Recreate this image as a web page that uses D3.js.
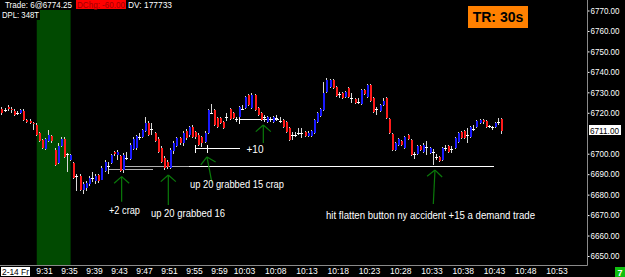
<!DOCTYPE html>
<html><head><meta charset="utf-8">
<script src="https://cdn.jsdelivr.net/npm/d3@7"></script>
<style>html,body{margin:0;padding:0;background:#000;overflow:hidden}svg{display:block}</style>
</head><body><svg id="c" width="625" height="277"></svg>
<script>
// ---------------- DATA ----------------
const startTime = "9:24:30";   // first 30s bar
const barMinutes = 0.5;
const opens = [6722,6721.5,6723,6722,6721,6720,6720,6721,6716.5,6716,6715,6714,6710,6706.5,6702.5,6706,6708.5,6702,6695.5,6704,
6707,6700,6697,6695.5,6689,6689,6682.5,6683,6685,6688,6686.5,6689.5,6687,6691.5,6694,6695.5,6701,6699.5,6699,6692,
6698,6697.5,6702.5,6703,6708,6708,6711,6715,6712,6710,6707,6703,6698,6696,6693,6701.5,6704,6707.5,6705,6711,
6709,6713,6710.5,6709,6708,6705.5,6710,6720,6721.5,6717.5,6717.5,6715.5,6718,6722,6720,6717,6718,6722,6722.5,6728.5,
6722.5,6728.5,6722.5,6720,6718,6715.5,6717,6715.5,6717.5,6716,6716.5,6715.5,6712.5,6709,6709,6710,6710,6710.5,6708.5,6708.5,
6710,6715.5,6718.5,6721.5,6730,6732.5,6736,6732.5,6729,6729.5,6727.5,6732,6727,6726.5,6725.5,6724.5,6731,6727.5,6733.5,6727,
6722,6721,6724,6727,6717,6709.5,6702,6704.5,6706,6703,6709,6706.5,6700,6700,6704,6701,6703.5,6700.5,6701,6698.5,
6698.5,6697,6703,6704,6702.5,6703,6705.5,6710.5,6711,6709,6708,6712,6713,6715,6716.5,6716,6713.5,6713,6713,6715.5,6717];
const highs = [6723,6722.5,6724,6723,6722,6721,6722,6722,6717,6717,6715.5,6715,6710.5,6707,6707.5,6711.5,6709,6703,6705,6708,
6708,6700.5,6700,6696,6690,6690,6686,6686.5,6689,6691,6690,6690,6694,6697,6696,6700,6701.5,6702,6699.5,6700.5,
6701,6705,6708,6709,6710,6712,6718,6716,6715,6710.5,6708,6704,6699,6697,6703,6706,6708,6708,6711,6712,
6713.5,6714,6711,6710,6708.5,6711,6722,6724.5,6722,6718,6718,6716,6720,6722.5,6720.5,6718,6723.5,6724,6728,6729,
6729.5,6729,6723,6720.5,6719,6718.5,6718,6718.5,6719,6718,6717,6716,6713,6710.5,6710.5,6712.5,6712.5,6711,6711,6711.5,
6717,6720.5,6722.5,6735,6737,6736.5,6736.5,6733,6730,6730,6730.5,6732.5,6729.5,6727,6727,6731.5,6731.5,6734,6734,6727.5,
6723,6724.5,6727,6727.5,6717.5,6710,6705.5,6707.5,6706.5,6708.5,6709.5,6707,6701,6704.5,6704.5,6705,6706,6703.5,6702.5,6700,
6699,6703.5,6704.5,6704.5,6704,6708,6710.5,6711,6711.5,6712.5,6713.5,6714,6716.5,6717,6717,6716.5,6714,6713.5,6715.5,6717.5,6717.5];
const lows = [6719,6720.5,6721,6720,6718.5,6719,6719.5,6716,6715,6714.5,6711.5,6708.5,6705.5,6702.5,6702,6705.5,6705,6694,6695,6703.5,
6698,6691,6696.5,6687.5,6682,6682,6680.5,6682,6684,6686,6685,6685.5,6687,6691,6690,6695,6699,6697,6691,6690.5,
6697,6697,6702,6702,6706.5,6707.5,6710.5,6708.5,6709,6705.5,6700.5,6695.5,6692,6692.5,6692.5,6700,6703.5,6704.5,6704,6706.5,
6708,6707.5,6707,6704,6703.5,6705,6709.5,6719.5,6713.5,6712.5,6714.5,6712,6716,6716.5,6717,6715.5,6717.5,6721.5,6722,6723.5,
6722,6721,6718.5,6716,6715.5,6715,6715.5,6715,6716,6715,6712.5,6710,6706,6706.5,6708,6709,6707.5,6708,6708,6708,
6709.5,6715,6718,6721,6729.5,6732,6731.5,6727.5,6727,6726.5,6727,6727,6725,6724.5,6724.5,6724,6728.5,6727,6725.5,6720,
6719,6720.5,6723.5,6717,6709.5,6701.5,6701.5,6704,6704,6702.5,6706.5,6699,6697.5,6699.5,6701.5,6700.5,6699.5,6700,6694.5,6697,
6696,6696.5,6701.5,6700.5,6700.5,6702.5,6705,6707,6707,6705,6707.5,6711,6712.5,6714.5,6714.5,6712.5,6712.5,6711.5,6712.5,6714,6709.5];
const closes = [6720,6721.5,6722,6721.5,6719,6720,6721.5,6716.5,6715.5,6715,6714.5,6709,6706,6703,6707,6709,6706,6694.5,6704,6707,
6698.5,6700,6699.5,6688,6689,6682.5,6685,6685.5,6688,6688,6689,6686.5,6693,6696,6694,6699.5,6700,6701,6691.5,6699.5,
6698,6704.5,6707,6708.5,6708,6711.5,6715,6709,6712,6706,6701,6696,6693,6693.5,6702,6705,6707.5,6705,6710,6707.5,
6713,6708,6708,6704.5,6705,6710,6721.5,6720,6714,6713,6715,6712.5,6718,6717,6717.5,6717,6723,6722,6727.5,6724,
6728.5,6721.5,6719,6716.5,6718,6718,6717,6718,6717.5,6716,6713,6710.5,6706.5,6709,6709,6710,6710,6708.5,6710,6711,
6716.5,6720,6722,6729.5,6736,6736,6732,6728,6729,6727,6730,6727.5,6727,6725,6725.5,6731,6729,6733.5,6726,6720.5,
6722,6724,6726,6717.5,6710,6702,6705,6707,6704.5,6708,6707,6699.5,6700,6704,6702,6704.5,6703.5,6703,6701,6698.5,
6696.5,6703,6703,6701,6702.5,6707.5,6710,6707.5,6707.5,6709,6713,6712,6716,6716.5,6715.5,6713,6713.5,6713,6715,6715.5,6711];

const priceTicks = [6650,6660,6670,6680,6690,6700,6720,6730,6740,6750,6760,6770];
const timeTicks = ["9:31","9:35","9:39","9:43","9:47","9:51","9:55","9:59","10:03","10:08","10:13","10:18","10:23","10:28","10:33","10:38","10:43","10:48","10:53"];
const dateLabel = "2-14 Fr";
const lastPrice = 6711.00;
const openBand = ["9:30:00","9:35:25"];

// horizontal order lines
const levelPrice = [6692.5, 6694.0, 6694.0, 6703.0, 6717.0];
const levelFrom  = ["9:41:20","9:44:05","9:54:25","9:55:20","10:02:20"];
const levelTo    = ["9:48:35","9:54:25","10:43:10","10:02:35","10:08:45"];

// annotation arrows (tip / tail)
const arrowTipTime  = ["9:43:35","9:51:03","9:57:14","10:06:15","10:33:43"];
const arrowTipPrice = [6688.8, 6689.6, 6698.4, 6714.0, 6692.0];
const arrowTailTime = ["9:43:35","9:51:03","9:58:02","10:06:15","10:33:27"];
const arrowTailPrice= [6676.5, 6674.9, 6685.7, 6705.2, 6675.4];

// annotation texts (center time, baseline price)
const noteTexts  = ["+2 crap","up 20 grabbed 16","up 20 grabbed 15 crap","+10","hit flatten button ny accident +15 a demand trade"];
const noteTimes  = ["9:44:02","9:54:12","10:02:02","10:04:55","10:33:00"];
const notePrices = [6670.5, 6669.1, 6683.3, 6700.4, 6667.9];

const headerTrade = "Trade: 6@6774.25";
const headerChg = "DChg: -60.00";
const headerVol = "DV: 177733";
const headerPL = "DPL: 348T";
const badge = "TR: 30s";
const cornerCount = "7";

// ---------------- DRAW ----------------
const toMin = s => { const p = s.split(":").map(Number); return p[0]*60 + p[1] + (p[2]||0)/60; };
const svg = d3.select("#c");
const W = 625, H = 277, axisX = 587.5, axisY = 265.5, plotTop = 10;

const x = d3.scaleLinear().domain([toMin("9:31"), toMin("10:53")]).range([43, 555.5]);
const y = d3.scaleLinear().domain([6650, 6770]).range([256, 10.5]);

svg.append("rect").attr("width", W).attr("height", H).attr("fill", "#000");

// opening band
svg.append("rect")
  .attr("x", x(toMin(openBand[0]))).attr("width", x(toMin(openBand[1])) - x(toMin(openBand[0])))
  .attr("y", plotTop).attr("height", axisY - plotTop)
  .attr("fill", "#014a01");

// order lines
const lvl = svg.append("g").attr("shape-rendering", "crispEdges");
levelPrice.forEach((p, i) => {
  lvl.append("line")
    .attr("x1", x(toMin(levelFrom[i]))).attr("x2", x(toMin(levelTo[i])))
    .attr("y1", Math.round(y(p)) + 0.5).attr("y2", Math.round(y(p)) + 0.5)
    .attr("stroke", i < 2 ? "#b0b0b0" : "#ffffff").attr("stroke-width", 1);
});
[[3, levelFrom[3]], [3, "9:57:10"], [4, levelFrom[4]]].forEach(([i, t]) => {
  const yy = Math.round(y(levelPrice[i]));
  lvl.append("line").attr("x1", Math.round(x(toMin(t))) + 0.5).attr("x2", Math.round(x(toMin(t))) + 0.5)
    .attr("y1", yy - 3).attr("y2", yy + 5).attr("stroke", "#fff");
});

// candles
const cg = svg.append("g").attr("shape-rendering", "crispEdges");
const t0 = toMin(startTime);
opens.forEach((o, i) => {
  const c = closes[i], h = highs[i], l = lows[i];
  const cx = Math.round(x(t0 + i * barMinutes)) - 1;
  cg.append("rect").attr("x", cx).attr("width", 1)
    .attr("y", Math.round(y(h))).attr("height", Math.max(1, Math.round(y(l)) - Math.round(y(h))))
    .attr("fill", "#d8d8d8");
  const top = Math.round(y(Math.max(o, c))), bot = Math.round(y(Math.min(o, c)));
  if (c === o) {
    cg.append("rect").attr("x", cx - 1).attr("width", 3).attr("y", top).attr("height", 1).attr("fill", "#ffffff");
  } else {
    cg.append("rect").attr("x", cx).attr("width", 2).attr("y", top).attr("height", Math.max(1, bot - top))
      .attr("fill", c > o ? "#1a1aff" : "#ff1a1a");
  }
});

// arrows
const ag = svg.append("g").attr("stroke", "#0a7a0a").attr("stroke-width", 1.2).attr("fill", "none");
arrowTipTime.forEach((t, i) => {
  const tx = x(toMin(t)), ty = y(arrowTipPrice[i]);
  const bx = x(toMin(arrowTailTime[i])), by = y(arrowTailPrice[i]);
  ag.append("line").attr("x1", tx).attr("y1", ty).attr("x2", bx).attr("y2", by);
  const ang = Math.atan2(by - ty, bx - tx), len = 10, spread = 0.85;
  [ang - spread, ang + spread].forEach(a => {
    ag.append("line").attr("x1", tx).attr("y1", ty)
      .attr("x2", tx + len * Math.cos(a)).attr("y2", ty + len * Math.sin(a));
  });
});

// annotation texts
const noteWidths = [31, 74, 94, 17, 209];
noteTexts.forEach((s, i) => {
  svg.append("text").text(s)
    .attr("x", x(toMin(noteTimes[i]))).attr("y", y(notePrices[i]))
    .attr("text-anchor", "middle")
    .attr("font-family", "'Liberation Sans', Arial, sans-serif").attr("font-size", 10)
    .attr("textLength", noteWidths[i]).attr("lengthAdjust", "spacingAndGlyphs")
    .attr("fill", "#ffffff");
});

// right price axis
const ya = svg.append("g").attr("transform", `translate(${axisX},0)`)
  .call(d3.axisRight(y).tickValues(priceTicks).tickFormat(d3.format(".2f")).tickSize(2).tickPadding(1));
ya.select(".domain").remove();
ya.selectAll("line").attr("stroke", "#ffffff");
ya.selectAll("text").attr("fill", "#fff").attr("font-family", "'Liberation Sans', Arial, sans-serif")
  .attr("font-size", 8.5).attr("textLength", 29).attr("lengthAdjust", "spacingAndGlyphs");

// last price box
const ly = y(lastPrice);
svg.append("rect").attr("x", 589).attr("y", Math.round(ly) - 6).attr("width", 32).attr("height", 10).attr("fill", "#fff");
svg.append("text").text(d3.format(".2f")(lastPrice)).attr("x", 590).attr("y", Math.round(ly) + 3)
  .attr("font-family", "'Liberation Sans', Arial, sans-serif").attr("font-size", 8.5)
  .attr("textLength", 29).attr("lengthAdjust", "spacingAndGlyphs").attr("fill", "#000");

// bottom time axis
const xa = svg.append("g").attr("transform", `translate(0,${axisY})`)
  .call(d3.axisBottom(x).tickValues(timeTicks.map(toMin)).tickFormat((d, i) => timeTicks[i]).tickSize(0).tickPadding(2));
xa.select(".domain").remove();
xa.selectAll("text").attr("fill", "#fff").attr("font-family", "'Liberation Sans', Arial, sans-serif")
  .attr("font-size", 8.5).attr("dx", 1);

// axis lines
svg.append("line").attr("x1", axisX).attr("x2", axisX).attr("y1", 0).attr("y2", axisY).attr("stroke", "#8a8a8a");
svg.append("line").attr("x1", 0).attr("x2", axisX).attr("y1", axisY).attr("y2", axisY).attr("stroke", "#8a8a8a");

// date label
svg.append("rect").attr("x", 1).attr("y", 267).attr("width", 29).attr("height", 9).attr("fill", "#fff");
svg.append("text").text(dateLabel).attr("x", 2).attr("y", 275)
  .attr("font-family", "'Liberation Sans', Arial, sans-serif").attr("font-size", 8.5)
  .attr("textLength", 27).attr("lengthAdjust", "spacingAndGlyphs").attr("fill", "#000");

// corner count
svg.append("rect").attr("x", 615).attr("y", 267).attr("width", 10).attr("height", 10).attr("fill", "#10c010");
svg.append("text").text(cornerCount).attr("x", 620).attr("y", 275.5).attr("text-anchor", "middle")
  .attr("font-family", "'Liberation Sans', Arial, sans-serif").attr("font-size", 9).attr("font-weight", "bold").attr("fill", "#fff");

// header
const hf = "'Liberation Sans', Arial, sans-serif";
svg.append("rect").attr("x", 0).attr("y", 0).attr("width", 40).attr("height", 20).attr("fill", "#000");
svg.append("text").text(headerTrade).attr("x", 5).attr("y", 8).attr("font-family", hf).attr("font-size", 8.5)
  .attr("textLength", 67).attr("lengthAdjust", "spacingAndGlyphs").attr("fill", "#fff");
svg.append("rect").attr("x", 76).attr("y", 0).attr("width", 50).attr("height", 9).attr("fill", "#ff0000");
svg.append("text").text(headerChg).attr("x", 77).attr("y", 8).attr("font-family", hf).attr("font-size", 8.5)
  .attr("textLength", 48).attr("lengthAdjust", "spacingAndGlyphs").attr("fill", "#a00000");
svg.append("text").text(headerVol).attr("x", 128).attr("y", 8).attr("font-family", hf).attr("font-size", 8.5)
  .attr("textLength", 44).attr("lengthAdjust", "spacingAndGlyphs").attr("fill", "#fff");
svg.append("text").text(headerPL).attr("x", 2).attr("y", 17.5).attr("font-family", hf).attr("font-size", 8.5)
  .attr("textLength", 37).attr("lengthAdjust", "spacingAndGlyphs").attr("fill", "#fff");

// TR badge
svg.append("rect").attr("x", 468).attr("y", 6).attr("width", 60).attr("height", 22).attr("fill", "#ff8000");
svg.append("text").text(badge).attr("x", 498).attr("y", 22).attr("text-anchor", "middle")
  .attr("font-family", hf).attr("font-size", 14).attr("font-weight", "bold").attr("fill", "#000");
</script></body></html>
